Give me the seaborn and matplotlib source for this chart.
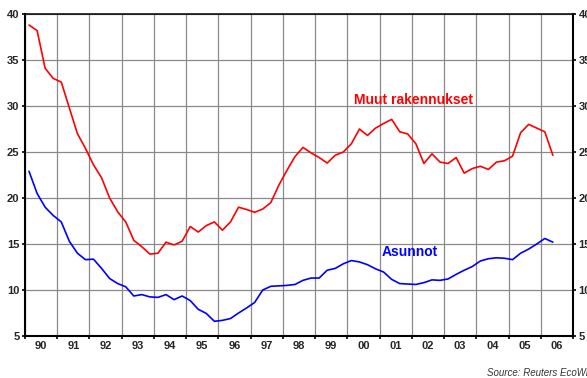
import numpy as np
import pandas as pd
import matplotlib
matplotlib.use("Agg")
import matplotlib.pyplot as plt
import seaborn as sns

# Quarterly series, 1990Q1 .. 2006Q2
quarters = [f"{y}Q{q}" for y in range(1990, 2007) for q in range(1, 5)][:66]

muut_rakennukset = [
    38.8, 38.2, 34.1, 33.0, 32.6, 29.8, 27.0, 25.4, 23.6, 22.2,
    20.0, 18.5, 17.4, 15.4, 14.7, 13.9, 14.0, 15.2, 14.9, 15.3,
    16.9, 16.3, 17.0, 17.4, 16.5, 17.4, 19.0, 18.75, 18.45, 18.8,
    19.5, 21.4, 23.0, 24.5, 25.5, 24.9, 24.4, 23.8, 24.65, 25.0,
    25.9, 27.5, 26.8, 27.6, 28.1, 28.55, 27.2, 26.95, 25.9, 23.75,
    24.8, 23.9, 23.75, 24.4, 22.7, 23.2, 23.45, 23.1, 23.9, 24.05,
    24.55, 27.1, 28.0, 27.6, 27.2, 24.65,
]

asunnot = [
    22.9, 20.5, 19.0, 18.1, 17.4, 15.3, 14.0, 13.3, 13.35, 12.35,
    11.25, 10.7, 10.35, 9.35, 9.5, 9.25, 9.2, 9.5, 8.95, 9.35,
    8.85, 7.9, 7.45, 6.6, 6.7, 6.9, 7.5, 8.05, 8.65, 10.0,
    10.4, 10.45, 10.5, 10.6, 11.05, 11.3, 11.3, 12.15, 12.35, 12.85,
    13.2, 13.05, 12.75, 12.3, 11.95, 11.15, 10.7, 10.65, 10.6, 10.8,
    11.1, 11.05, 11.2, 11.7, 12.15, 12.55, 13.15, 13.4, 13.5, 13.45,
    13.3, 14.0, 14.45, 15.0, 15.6, 15.2,
]

series_names = ["Muut rakennukset", "Asunnot"]
series_colors = ["#ff0000", "#0000ff"]
year_labels = ["90", "91", "92", "93", "94", "95", "96", "97", "98",
               "99", "00", "01", "02", "03", "04", "05", "06"]
y_ticks = [5, 10, 15, 20, 25, 30, 35, 40]

# quarter -> decimal year at the middle of the quarter
def quarter_pos(label):
    y, q = label.split("Q")
    return int(y) + (int(q) - 0.5) / 4.0

t = [quarter_pos(q) for q in quarters]
df = pd.concat([
    pd.DataFrame({"t": t, "value": muut_rakennukset, "series": series_names[0]}),
    pd.DataFrame({"t": t, "value": asunnot, "series": series_names[1]}),
])

sns.set_style("white")
plt.rcParams["font.family"] = ["Liberation Sans", "DejaVu Sans"]

fig = plt.figure(figsize=(5.87, 3.78), dpi=100)
ax = fig.add_axes([25 / 587, 1 - 336 / 378, 548 / 587, 322 / 378])

sns.lineplot(data=df, x="t", y="value", hue="series",
             palette=dict(zip(series_names, series_colors)),
             linewidth=1.2, legend=False, ax=ax, zorder=3)

ax.set_xlim(1990, 2007)
ax.set_ylim(5, 40)
ax.set_xlabel("")
ax.set_ylabel("")

# year boundaries carry the grid, year labels sit between them
ax.set_xticks(range(1990, 2008))
ax.set_xticklabels([])
ax.set_xticks([1990.5 + i for i in range(len(year_labels))], minor=True)
ax.set_xticklabels(year_labels, minor=True, fontsize=8, fontweight="bold")
ax.set_yticks(y_ticks)
ax.set_yticklabels([str(v) for v in y_ticks], fontsize=8, fontweight="bold")

ax.tick_params(axis="x", which="major", direction="out", length=2.5,
               width=1.2, color="black", bottom=True)
ax.tick_params(axis="x", which="minor", length=0, pad=3.5)
ax.tick_params(axis="y", direction="out", length=2.5, width=1.2,
               color="black", left=True, right=True, labelright=True, pad=1.5)

ax.grid(True, which="major", color="#8a8a8a", linewidth=0.9, zorder=0)
ax.set_axisbelow(True)

for side in ["left", "bottom", "right"]:
    ax.spines[side].set_visible(True)
    ax.spines[side].set_color("black")
    ax.spines[side].set_linewidth(1.5)
ax.spines["top"].set_visible(True)
ax.spines["top"].set_color("black")
ax.spines["top"].set_linewidth(1.1)

ax.text(2000.2, 30.17, "Muut rakennukset", color=series_colors[0],
        fontsize=10, fontweight="bold", ha="left", va="baseline")
ax.text(2001.07, 13.67, "Asunnot", color=series_colors[1],
        fontsize=10, fontweight="bold", ha="left", va="baseline")

fig.text(487 / 587, 1 - 373 / 378, "Source: Reuters EcoWin", fontsize=7,
         style="italic", color="#333333", ha="left", va="center")

fig.savefig("out.png", dpi=100)
